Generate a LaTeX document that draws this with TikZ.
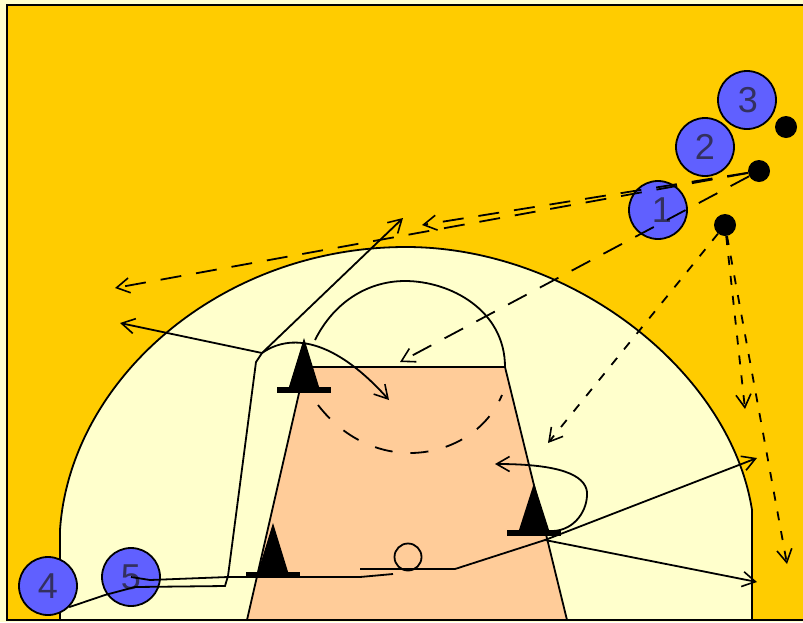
\documentclass[tikz,border=0pt]{standalone}
\usepackage{fontspec}
\setmainfont{Liberation Sans}
\usetikzlibrary{arrows.meta}
\definecolor{court}{HTML}{FFCC00}
\definecolor{pale}{HTML}{FFFFCC}
\definecolor{peach}{HTML}{FFCC99}
\definecolor{player}{HTML}{6060FF}
\definecolor{digit}{HTML}{33305F}
\tikzset{
  x=1pt,y=-1pt,
  ln/.style={line width=1.8pt,draw=black},
  move/.style={ln,-{Straight Barb[length=13pt,width=15pt,line width=1.6pt]}},
  pass/.style={move,dash pattern=on 21pt off 15pt},
  drib/.style={move,dash pattern=on 9pt off 11pt},
  playerdisc/.style={circle,draw=black,line width=1.8pt,fill=player,minimum size=58pt,inner sep=0pt,text=digit,font=\fontsize{36}{36}\selectfont},
  balldot/.style={circle,fill=black,minimum size=22pt,inner sep=0pt},
  ballopen/.style={circle,draw=black,line width=1.8pt,fill=peach,minimum size=27pt,inner sep=0pt},
  cone/.style={fill=black},
  conebase/.style={line width=6pt,draw=black},
}
\begin{document}
\begin{tikzpicture}
\useasboundingbox (0,0) rectangle (803,622);
\fill[pale] (0,0) rectangle (803,622);
\draw[ln,fill=court] (7,5) rectangle (806,620);
% three-point area
\draw[ln,fill=pale] (60,530) .. controls (70,380) and (220,247) .. (406,247) .. controls (570,247) and (730,370) .. (752,510) -- (752,620) -- (60,620) -- cycle;
% key
\draw[ln,fill=peach] (305,367) -- (505,367) -- (567,620) -- (247,620) -- cycle;
\draw[ln] (315,340) .. controls (335,300) and (370,281) .. (405,281) .. controls (450,281) and (505,310) .. (505,367);
\draw[ln,dash pattern=on 18pt off 18pt] (318,405) .. controls (345,440) and (380,453) .. (410,453) .. controls (445,453) and (485,435) .. (502,395);
% cones
\coordinate (c1) at (304,390);
\coordinate (c2) at (273,575);
\coordinate (c3) at (534,533);
\foreach \c/\ax/\ay in {c1/304/338,c2/273/523,c3/534/483}{
  \fill[cone] (\ax,\ay) -- ([xshift=-16pt]\c) -- ([xshift=16pt]\c) -- cycle;
  \draw[conebase] ([xshift=-27pt]\c) -- ([xshift=27pt]\c);
}
% players
\node[playerdisc] (p3) at (747,100) {\raisebox{-1pt}{\hspace{2pt}3}};
\node[playerdisc] (p2) at (705,147) {\raisebox{-3pt}{2}};
\node[playerdisc] (p1) at (658,210) {\raisebox{-2pt}{\hspace{8pt}1}};
\node[playerdisc] (p4) at (48,586) {\raisebox{-2pt}{4}};
\node[playerdisc] (p5) at (131,577) {\raisebox{-1pt}{5}};
\node[balldot] (d3) at (786,127) {};
\node[balldot] (d2) at (759,171) {};
\node[balldot] (d1) at (725,225) {};
\node[ballopen] (ball) at (408,557) {};
% targets
\coordinate (j1) at (262,353);
\coordinate (j2) at (545,540);
\coordinate (t1) at (403,218);
\coordinate (t2) at (120,323);
\coordinate (t3) at (389,400);
\coordinate (t4) at (757,458);
\coordinate (t5) at (757,582);
\coordinate (t6) at (495,464);
\coordinate (t7) at (115,288);
\coordinate (t8) at (422,225);
\coordinate (t9) at (400,362);
\coordinate (t10) at (548,443);
\coordinate (t11) at (745,409);
\coordinate (t12) at (787,564);
% passes
\draw[pass] (d2) -- (t7);
\draw[pass] (d2) -- (t8);
\draw[pass] (d2) -- (t9);
\draw[drib] (d1) -- (t10);
\draw[drib] (d1) -- (t11);
\draw[drib] (d1) -- (t12);
% cuts
\draw[ln] (p4.south east) -- (105,595) -- (135,587) -- (225,586) -- (228,576) -- (256,362) -- (j1);
\draw[move] (j1) -- (t1);
\draw[move] (j1) -- (t2);
\draw[move] (j1) .. controls (295,330) and (340,345) .. (t3);
\draw[ln] (p5.center) -- (150,580) -- (228,577) -- (360,577) -- (393,574);
\draw[ln] (360,569) -- (455,569) -- (j2);
\draw[move] (j2) -- (t4);
\draw[move] (j2) -- (t5);
\draw[move] (553,531) .. controls (575,530) and (588,510) .. (587,492) .. controls (585,475) and (560,464) .. (t6);
\end{tikzpicture}
\end{document}
